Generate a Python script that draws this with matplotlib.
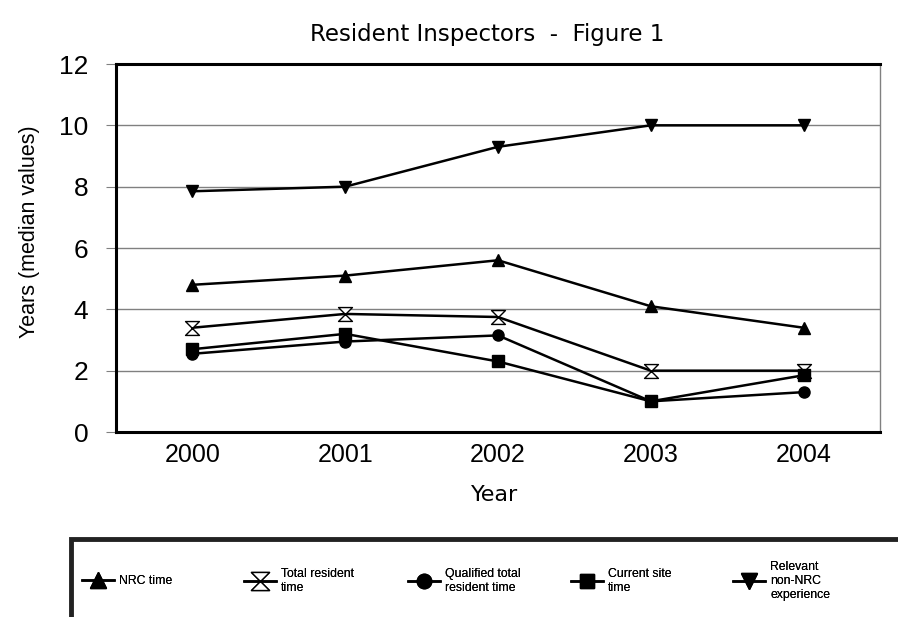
import matplotlib.pyplot as plt
from matplotlib.path import Path
from matplotlib.patches import Rectangle
import numpy as np

years = ["2000", "2001", "2002", "2003", "2004"]
nrc_time = [4.8, 5.1, 5.6, 4.1, 3.4]
total_resident = [3.4, 3.85, 3.75, 2.0, 2.0]
qualified_resident = [2.55, 2.95, 3.15, 1.0, 1.3]
current_site = [2.7, 3.2, 2.3, 1.0, 1.85]
non_nrc = [7.85, 8.0, 9.3, 10.0, 10.0]

plt.rcParams["font.family"] = ["Liberation Sans", "DejaVu Sans"]

# hourglass marker for total resident time
hourglass = Path([(-1, 1), (1, 1), (-1, -1), (1, -1), (-1, 1)],
                 [Path.MOVETO, Path.LINETO, Path.LINETO, Path.LINETO, Path.CLOSEPOLY])

W, H = 898, 617
fig = plt.figure(figsize=(W / 100, H / 100), dpi=100)
ax = fig.add_axes([116 / W, 1 - 432 / H, 764 / W, 368 / H])

x = np.arange(len(years))
series = [
    (nrc_time, "^", "black", 9, "NRC time"),
    (total_resident, hourglass, "white", 10, "Total resident\ntime"),
    (qualified_resident, "o", "black", 8, "Qualified total\nresident time"),
    (current_site, "s", "black", 8, "Current site\ntime"),
    (non_nrc, "v", "black", 9, "Relevant\nnon-NRC\nexperience"),
]
handles = []
for vals, mk, fc, ms, lab in series:
    h, = ax.plot(x, vals, color="black", lw=1.8, marker=mk, markersize=ms,
                 markerfacecolor=fc, markeredgecolor="black", markeredgewidth=1.0,
                 label=lab, zorder=3)
    handles.append(h)

ax.set_xlim(-0.5, 4.5)
ax.set_ylim(0, 12)
ax.set_yticks(range(0, 13, 2))
ax.set_xticks(x)
ax.set_xticklabels(years, fontsize=18)
ax.tick_params(axis="y", labelsize=19, length=7, color="gray", pad=13)
ax.tick_params(axis="x", length=0, pad=8)
ax.yaxis.grid(True, color="gray", lw=1)
ax.set_axisbelow(True)

for side in ["left", "bottom", "top"]:
    ax.spines[side].set_linewidth(2.2)
    ax.spines[side].set_color("black")
ax.spines["right"].set_color("gray")
ax.spines["right"].set_linewidth(1)

fig.text(30 / W, 1 - 232 / H, "Years (median values)", fontsize=15.5, rotation=90,
         ha="center", va="center")
fig.text(495 / W, 1 - 495 / H, "Year", fontsize=16, family="DejaVu Sans",
         ha="center", va="center")
fig.text(487 / W, 1 - 35 / H, "Resident Inspectors  -  Figure 1", fontsize=16.5,
         family="DejaVu Sans", ha="center", va="center")

# legend box (partly cut off at right and bottom)
fig.patches.append(Rectangle((71 / W, -0.05), 0.95, 1 - 539 / H + 0.05,
                             transform=fig.transFigure, fill=False, lw=3.5,
                             edgecolor="#222222", clip_on=False))
leg_x = [82, 244, 408, 571, 733]
for h, lx in zip(handles, leg_x):
    leg = fig.legend(handles=[h], loc="center left", bbox_to_anchor=(lx / W, 1 - 581 / H),
                     frameon=False, fontsize=8.8, handlelength=2.6, handletextpad=0.45,
                     borderpad=0, borderaxespad=0, markerscale=1.3, labelspacing=0.2)
    fig.add_artist(leg)

fig.savefig("out.png", dpi=100)
